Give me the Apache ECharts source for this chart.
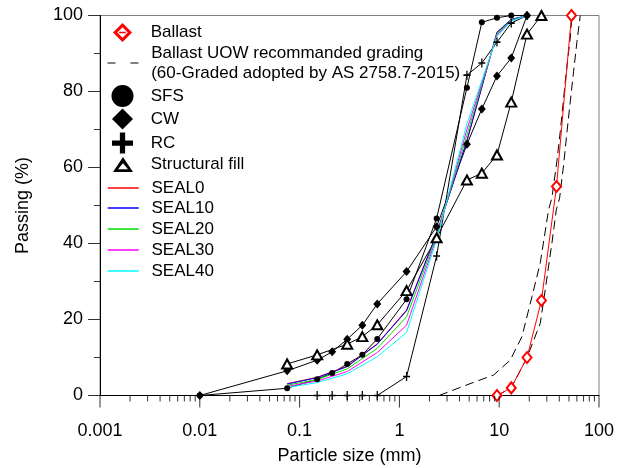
<!DOCTYPE html>
<html>
<head>
<meta charset="utf-8">
<script src="https://cdn.jsdelivr.net/npm/echarts@6/dist/echarts.min.js"></script>
<style>
  html, body { margin: 0; padding: 0; background: #fff; }
  #chart { width: 627px; height: 468px; }
</style>
</head>
<body>
<div id="chart"></div>
<script>
// Particle size distribution curves (sieve size in mm, percent passing)

const ballastSize = [9.5, 13.2, 19, 26.5, 37.5, 53];
const ballastPassing = [0, 2, 10, 25, 55, 100];

// UOW recommended grading envelope: fine and coarse bounds
const uowFineSize = [2.5, 4.75, 8.8, 12.9, 16.9, 21.3, 25.8, 31.2, 33.7, 37.8, 40.9, 43.5, 47, 51.5, 53.6];
const uowFinePassing = [0, 2.8, 5.4, 9.3, 15.5, 26, 34.9, 48.8, 52, 61.5, 69.4, 76.4, 85.2, 94, 100];
const uowCoarseSize = [9.5, 13.2, 19, 25.8, 28.9, 33.7, 37.3, 40.3, 44.2, 47.8, 51.5, 55.6, 60.1, 64.9];
const uowCoarsePassing = [0, 2, 10, 19, 27.8, 40, 48.8, 52, 60.7, 69.4, 77.3, 85.2, 93.1, 100];

const sfsSize = [0.01, 0.075, 0.15, 0.212, 0.3, 0.425, 0.6, 1.18, 2.36, 4.75, 6.7, 9.5, 13.2, 19];
const sfsPassing = [0, 1.9, 4.3, 5.9, 8.3, 10.7, 14.9, 25.3, 46.6, 81, 98.2, 99.4, 100, 100];

const cwSize = [0.01, 0.075, 0.15, 0.212, 0.3, 0.425, 0.6, 1.18, 2.36, 4.75, 6.7, 9.5, 13.2, 19];
const cwPassing = [0, 6.5, 9.3, 11.5, 14.8, 18.5, 24.1, 32.6, 44.4, 66.1, 75.4, 84.1, 88.8, 100];

const rcSize = [0.15, 0.212, 0.3, 0.425, 0.6, 1.18, 2.36, 4.75, 6.7, 9.5, 13.2, 19];
const rcPassing = [0, 0, 0, 0, 0, 5, 36.7, 84.3, 87.5, 93, 98, 100];

const fillSize = [0.075, 0.15, 0.3, 0.425, 0.6, 1.18, 2.36, 4.75, 6.7, 9.5, 13.2, 19, 26.5];
const fillPassing = [8.3, 10.7, 13.5, 15.5, 18.6, 27.6, 41.5, 56.7, 58.5, 63.3, 77.2, 95.1, 100];

const sealSize = [0.075, 0.15, 0.3, 0.6, 1.18, 2.36, 4.75, 9.5, 13.2, 19];
const seal0Passing  = [3.1, 4.8, 7.7, 13.6, 22.5, 42.6, 67, 95.5, 98.8, 100];
const seal10Passing = [3.0, 4.7, 7.6, 13.5, 22.3, 42.5, 67, 95.6, 99, 100];
const seal20Passing = [2.7, 4.2, 7.0, 12.4, 20.7, 42, 68.5, 95.2, 98.8, 100];
const seal30Passing = [2.4, 3.8, 6.3, 11.3, 18.5, 41.5, 70, 94.8, 98.6, 100];
const seal40Passing = [2.1, 3.4, 5.7, 10.2, 16.6, 41, 71.5, 94.5, 98.5, 100];

// Axis ticks
const xMajorTicks = [0.001, 0.01, 0.1, 1, 10, 100];
const xMinorTicks = [
  0.002, 0.003, 0.004, 0.005, 0.006, 0.007, 0.008, 0.009,
  0.02, 0.03, 0.04, 0.05, 0.06, 0.07, 0.08, 0.09,
  0.2, 0.3, 0.4, 0.5, 0.6, 0.7, 0.8, 0.9,
  2, 3, 4, 5, 6, 7, 8, 9,
  20, 30, 40, 50, 60, 70, 80, 90
];
const yMajorTicks = [0, 20, 40, 60, 80, 100];
const yMinorTicks = [10, 30, 50, 70, 90];

const UOW_NAME = 'Ballast UOW recommanded grading\n(60-Graded adopted by AS 2758.7-2015)';
const FONT = 'Liberation Sans, Arial, Helvetica, sans-serif';

const pairs = (xs, ys) => xs.map((x, i) => [x, ys[i]]);

// marker shapes
const PLUS_SMALL = 'path://M4.1,0H5.9V4.1H10V5.9H5.9V10H4.1V5.9H0V4.1H4.1Z';
const PLUS_BIG = 'path://M7.5,0H12.5V7.5H20V12.5H12.5V20H7.5V12.5H0V7.5H7.5Z';
const DIAMOND_RING = 'path://M10,0L20,10L10,20L0,10Z M10,4.5L4.5,10L10,15.5L15.5,10Z M6.5,9.3H13.5V10.7H6.5Z';
const TRIANGLE_RING = 'path://M10,0L20,15L0,15Z M10,6.3L5,12.3L15,12.3Z';

const blackLine = { color: '#000', width: 1 };

const series = [
  {
    name: UOW_NAME, type: 'line', symbol: 'none', data: pairs(uowFineSize, uowFinePassing),
    lineStyle: { color: '#000', width: 1, type: [9, 5] }, itemStyle: { color: '#000' }
  },
  {
    name: UOW_NAME, type: 'line', symbol: 'none', data: pairs(uowCoarseSize, uowCoarsePassing),
    lineStyle: { color: '#000', width: 1, type: [9, 5] }, itemStyle: { color: '#000' }
  },
  {
    name: 'Ballast', type: 'line', data: pairs(ballastSize, ballastPassing),
    symbol: 'diamond', symbolSize: [9, 11],
    lineStyle: { color: '#ff0000', width: 1 },
    itemStyle: { color: '#ffffff', borderColor: '#ff0000', borderWidth: 2 }
  },
  {
    name: 'SFS', type: 'line', data: pairs(sfsSize, sfsPassing),
    symbol: 'circle', symbolSize: 6, lineStyle: blackLine, itemStyle: { color: '#000' }
  },
  {
    name: 'CW', type: 'line', data: pairs(cwSize, cwPassing),
    symbol: 'diamond', symbolSize: [8, 9], lineStyle: blackLine, itemStyle: { color: '#000' }
  },
  {
    name: 'RC', type: 'line', data: pairs(rcSize, rcPassing),
    symbol: PLUS_SMALL, symbolSize: [7, 9], lineStyle: blackLine, itemStyle: { color: '#000' }
  },
  {
    name: 'Structural fill', type: 'line', data: pairs(fillSize, fillPassing),
    symbol: 'triangle', symbolSize: [10, 9], lineStyle: blackLine,
    itemStyle: { color: '#ffffff', borderColor: '#000', borderWidth: 2 }
  }
];

const sealDefs = [
  ['SEAL0', seal0Passing, '#ff0000'],
  ['SEAL10', seal10Passing, '#0000ff'],
  ['SEAL20', seal20Passing, '#00e000'],
  ['SEAL30', seal30Passing, '#ff00ff'],
  ['SEAL40', seal40Passing, '#00ffff']
];
sealDefs.forEach(([name, vals, color]) => {
  series.push({
    name, type: 'line', symbol: 'none', data: pairs(sealSize, vals),
    lineStyle: { color, width: 1 }, itemStyle: { color }
  });
});

// Outward axis tick marks as small bars anchored on the axes through the axis scales
function tickSeries(points, size, offset) {
  return {
    type: 'scatter', silent: true, clip: false, z: 5,
    data: points, symbol: 'rect', symbolSize: size, symbolOffset: offset,
    itemStyle: { color: '#000' }, emphasis: { disabled: true }, tooltip: { show: false }
  };
}
const xAxisStart = xMajorTicks[0];
const yAxisStart = yMajorTicks[0];
series.push(
  tickSeries(xMajorTicks.map(v => [v, yAxisStart]), [1, 12], [0, 6]),
  tickSeries(xMinorTicks.map(v => [v, yAxisStart]), [1, 6], [0, 3]),
  tickSeries(yMajorTicks.map(v => [xAxisStart, v]), [12, 1], [-6, 0]),
  tickSeries(yMinorTicks.map(v => [xAxisStart, v]), [6, 1], [-3, 0])
);

// one legend block per entry so each icon keeps its own size
const TEXT_X = 150.7;
function legendEntry(name, cx, cy, w, h, opts) {
  const textH = name.indexOf('\n') >= 0 ? 40 : 20;
  const boxH = Math.max(h, textH);
  return Object.assign({
    data: [name],
    left: cx - w / 2,
    top: cy - boxH / 2,
    orient: 'vertical',
    padding: 0,
    itemWidth: w,
    itemHeight: h,
    selectedMode: false,
    textStyle: {
      fontFamily: FONT, fontSize: 17, color: '#000', lineHeight: 20,
      padding: [0, 0, 0, TEXT_X - (cx + w / 2) - 5]
    }
  }, opts || {});
}

// plain line entries: no marker in the key
function lineEntry(name, cy, lineType) {
  return legendEntry(name, 122.5, cy, 31, 2, {
    itemStyle: { opacity: 0 },
    lineStyle: lineType ? { type: lineType, width: 1 } : { width: 1.5 }
  });
}

const legends = [
  legendEntry('Ballast', 122.5, 32.5, 19, 19, {
    data: [{ name: 'Ballast', icon: DIAMOND_RING, itemStyle: { color: '#ff0000', borderWidth: 0 } }]
  }),
  lineEntry(UOW_NAME, 63, [8, 15]),
  legendEntry('SFS', 122.5, 96, 22, 22, {
    data: [{ name: 'SFS', icon: 'circle', itemStyle: { color: '#000', borderWidth: 0 } }]
  }),
  legendEntry('CW', 122.5, 119, 21, 21, {
    data: [{ name: 'CW', icon: 'diamond', itemStyle: { color: '#000', borderWidth: 0 } }]
  }),
  legendEntry('RC', 122.5, 143, 21, 21, {
    data: [{ name: 'RC', icon: PLUS_BIG, itemStyle: { color: '#000', borderWidth: 0 } }]
  }),
  legendEntry('Structural fill', 123, 164.5, 20, 15, {
    data: [{ name: 'Structural fill', icon: TRIANGLE_RING, itemStyle: { color: '#000', borderWidth: 0 } }]
  }),
  lineEntry('SEAL0', 188),
  lineEntry('SEAL10', 208),
  lineEntry('SEAL20', 229),
  lineEntry('SEAL30', 250),
  lineEntry('SEAL40', 271)
];

function decadeLabel(v) {
  const p = Math.round(Math.log10(v));
  return p < 0 ? Math.pow(10, p).toFixed(-p) : String(Math.round(Math.pow(10, p)));
}

const chart = echarts.init(document.getElementById('chart'), null, { renderer: 'canvas' });
chart.setOption({
  animation: false,
  backgroundColor: '#ffffff',
  grid: {
    left: 100, right: 28, top: 15.5, bottom: 72.5,
    show: true, borderColor: '#808080', borderWidth: 1,
    containLabel: false, outerBoundsMode: 'none'
  },
  legend: legends,
  xAxis: {
    type: 'log', logBase: 10, min: xMajorTicks[0], max: xMajorTicks[xMajorTicks.length - 1],
    name: 'Particle size (mm)', nameLocation: 'middle', nameGap: 52,
    nameTextStyle: { fontFamily: FONT, fontSize: 18, color: '#000' },
    axisLine: { show: true, onZero: false, lineStyle: { color: '#000', width: 1 } },
    axisTick: { show: false },
    axisLabel: { show: true, margin: 27, fontFamily: FONT, fontSize: 18, color: '#000', formatter: decadeLabel },
    splitLine: { show: false }
  },
  yAxis: {
    type: 'value', min: yMajorTicks[0], max: yMajorTicks[yMajorTicks.length - 1], interval: 20,
    name: 'Passing (%)', nameLocation: 'middle', nameGap: 68,
    nameTextStyle: { fontFamily: FONT, fontSize: 18, color: '#000' },
    axisLine: { show: true, onZero: false, lineStyle: { color: '#000', width: 1 } },
    axisTick: { show: false },
    minorTick: { show: false },
    axisLabel: { margin: 17, fontFamily: FONT, fontSize: 18, color: '#000' },
    splitLine: { show: false }
  },
  series: series.map(s => Object.assign({ clip: true }, s))
});
</script>
</body>
</html>
